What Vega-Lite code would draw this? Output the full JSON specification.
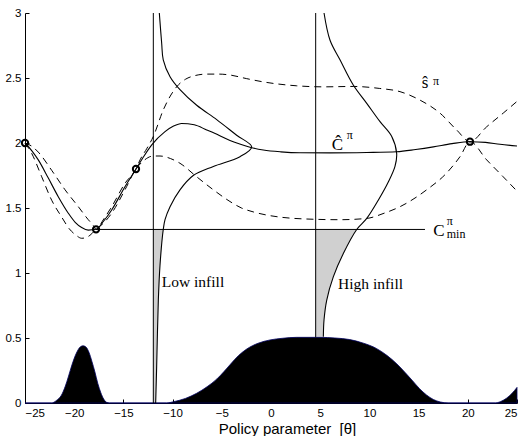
{
  "$schema": "https://vega.github.io/schema/vega-lite/v6.json",
  "width": 492,
  "height": 390,
  "autosize": "none",
  "padding": {"left": 25, "top": 13, "right": 10, "bottom": 33},
  "background": "white",
  "config": {"view": {"stroke": null}},
  "datasets": {
    "dens": [
      {"t": -25, "d": 0}, {"t": -22.3, "d": 0}, {"t": -21.8, "d": 0.02}, {"t": -21.3, "d": 0.06}, {"t": -20.9, "d": 0.13}, {"t": -20.6, "d": 0.2}, {"t": -20.2, "d": 0.3}, {"t": -19.8, "d": 0.38}, {"t": -19.4, "d": 0.43}, {"t": -19.1, "d": 0.44}, {"t": -18.8, "d": 0.43}, {"t": -18.5, "d": 0.39}, {"t": -18.2, "d": 0.32}, {"t": -17.9, "d": 0.24}, {"t": -17.6, "d": 0.15}, {"t": -17.3, "d": 0.08}, {"t": -17.0, "d": 0.03}, {"t": -16.7, "d": 0.005}, {"t": -16.4, "d": 0},
      {"t": -10.6, "d": 0}, {"t": -9.9, "d": 0.01}, {"t": -8.7, "d": 0.035}, {"t": -7.55, "d": 0.075}, {"t": -6.5, "d": 0.125}, {"t": -5.5, "d": 0.185}, {"t": -4.8, "d": 0.24}, {"t": -4.1, "d": 0.3}, {"t": -3.3, "d": 0.365}, {"t": -2.47, "d": 0.415}, {"t": -1.3, "d": 0.46}, {"t": -0.1, "d": 0.485}, {"t": 1.2, "d": 0.498}, {"t": 2.6, "d": 0.505}, {"t": 5.0, "d": 0.505}, {"t": 6.5, "d": 0.5}, {"t": 8.0, "d": 0.488}, {"t": 9.4, "d": 0.46}, {"t": 10.7, "d": 0.42}, {"t": 11.8, "d": 0.365}, {"t": 12.8, "d": 0.3}, {"t": 13.6, "d": 0.237}, {"t": 14.4, "d": 0.17}, {"t": 15.1, "d": 0.11}, {"t": 15.8, "d": 0.062}, {"t": 16.5, "d": 0.027}, {"t": 17.2, "d": 0.008}, {"t": 18.0, "d": 0},
      {"t": 22.8, "d": 0}, {"t": 23.3, "d": 0.01}, {"t": 23.9, "d": 0.035}, {"t": 24.5, "d": 0.075}, {"t": 25, "d": 0.12}
    ],
    "mean": [
      {"t": -25, "c": 2.0}, {"t": -24.3, "c": 1.94}, {"t": -23.65, "c": 1.87}, {"t": -22.63, "c": 1.73}, {"t": -21.62, "c": 1.587}, {"t": -20.6, "c": 1.46}, {"t": -19.9, "c": 1.39}, {"t": -19.24, "c": 1.35}, {"t": -18.57, "c": 1.33}, {"t": -17.78, "c": 1.336}, {"t": -17.0, "c": 1.4}, {"t": -16.19, "c": 1.485}, {"t": -14.84, "c": 1.664}, {"t": -13.72, "c": 1.8}, {"t": -12.9, "c": 1.9}, {"t": -12.12, "c": 1.985}, {"t": -10.77, "c": 2.087}, {"t": -9.9, "c": 2.13}, {"t": -9.08, "c": 2.15}, {"t": -7.8, "c": 2.14}, {"t": -6.53, "c": 2.1}, {"t": -5.3, "c": 2.06}, {"t": -4.17, "c": 2.02}, {"t": -3.1, "c": 1.99}, {"t": -2.13, "c": 1.967}, {"t": -0.78, "c": 1.946}, {"t": 1, "c": 1.932}, {"t": 2.95, "c": 1.925}, {"t": 6, "c": 1.924}, {"t": 9.73, "c": 1.927}, {"t": 12.77, "c": 1.933}, {"t": 14.7, "c": 1.95}, {"t": 16.5, "c": 1.97}, {"t": 18.4, "c": 1.995}, {"t": 20.22, "c": 2.01}, {"t": 21.8, "c": 2.005}, {"t": 23.27, "c": 1.99}, {"t": 25, "c": 1.977}
    ],
    "band": [
      {"s": "upper", "t": -25, "c": 2.0}, {"s": "upper", "t": -24.3, "c": 1.975}, {"s": "upper", "t": -23.65, "c": 1.93}, {"s": "upper", "t": -22.29, "c": 1.79}, {"s": "upper", "t": -20.93, "c": 1.64}, {"s": "upper", "t": -19.58, "c": 1.51}, {"s": "upper", "t": -18.57, "c": 1.41}, {"s": "upper", "t": -18.1, "c": 1.37}, {"s": "upper", "t": -17.78, "c": 1.336}, {"s": "upper", "t": -17.0, "c": 1.415}, {"s": "upper", "t": -16.19, "c": 1.51}, {"s": "upper", "t": -14.84, "c": 1.69}, {"s": "upper", "t": -13.72, "c": 1.8}, {"s": "upper", "t": -13.31, "c": 1.87}, {"s": "upper", "t": -12.6, "c": 1.96}, {"s": "upper", "t": -11.96, "c": 2.05}, {"s": "upper", "t": -10.95, "c": 2.254}, {"s": "upper", "t": -9.58, "c": 2.433}, {"s": "upper", "t": -8.7, "c": 2.49}, {"s": "upper", "t": -7.9, "c": 2.515}, {"s": "upper", "t": -6.53, "c": 2.53}, {"s": "upper", "t": -5.3, "c": 2.53}, {"s": "upper", "t": -4.17, "c": 2.523}, {"s": "upper", "t": -2.47, "c": 2.495}, {"s": "upper", "t": -0.78, "c": 2.47}, {"s": "upper", "t": 2.61, "c": 2.44}, {"s": "upper", "t": 5.32, "c": 2.432}, {"s": "upper", "t": 8.36, "c": 2.435}, {"s": "upper", "t": 11, "c": 2.42}, {"s": "upper", "t": 13.11, "c": 2.395}, {"s": "upper", "t": 15.14, "c": 2.33}, {"s": "upper", "t": 17.17, "c": 2.23}, {"s": "upper", "t": 18.87, "c": 2.1}, {"s": "upper", "t": 20.22, "c": 2.01}, {"s": "upper", "t": 21.92, "c": 2.125}, {"s": "upper", "t": 23.6, "c": 2.23}, {"s": "upper", "t": 25, "c": 2.32},
      {"s": "lower", "t": -25, "c": 2.0}, {"s": "lower", "t": -24.32, "c": 1.92}, {"s": "lower", "t": -23.3, "c": 1.74}, {"s": "lower", "t": -22.29, "c": 1.56}, {"s": "lower", "t": -21.27, "c": 1.43}, {"s": "lower", "t": -20.5, "c": 1.34}, {"s": "lower", "t": -19.8, "c": 1.29}, {"s": "lower", "t": -19.24, "c": 1.267}, {"s": "lower", "t": -18.8, "c": 1.272}, {"s": "lower", "t": -18.4, "c": 1.29}, {"s": "lower", "t": -17.78, "c": 1.336}, {"s": "lower", "t": -17.0, "c": 1.385}, {"s": "lower", "t": -16.19, "c": 1.46}, {"s": "lower", "t": -14.84, "c": 1.64}, {"s": "lower", "t": -13.72, "c": 1.8}, {"s": "lower", "t": -13.0, "c": 1.86}, {"s": "lower", "t": -11.96, "c": 1.9}, {"s": "lower", "t": -11.28, "c": 1.9}, {"s": "lower", "t": -10.2, "c": 1.88}, {"s": "lower", "t": -9.25, "c": 1.844}, {"s": "lower", "t": -7.55, "c": 1.74}, {"s": "lower", "t": -5.86, "c": 1.64}, {"s": "lower", "t": -4.17, "c": 1.55}, {"s": "lower", "t": -3.0, "c": 1.5}, {"s": "lower", "t": -1.8, "c": 1.47}, {"s": "lower", "t": 0.91, "c": 1.43}, {"s": "lower", "t": 4.5, "c": 1.413}, {"s": "lower", "t": 7, "c": 1.41}, {"s": "lower", "t": 9.73, "c": 1.42}, {"s": "lower", "t": 11.5, "c": 1.46}, {"s": "lower", "t": 13.11, "c": 1.51}, {"s": "lower", "t": 15.82, "c": 1.64}, {"s": "lower", "t": 17.86, "c": 1.77}, {"s": "lower", "t": 19.21, "c": 1.895}, {"s": "lower", "t": 20.22, "c": 2.01}, {"s": "lower", "t": 21.92, "c": 1.87}, {"s": "lower", "t": 23.6, "c": 1.74}, {"s": "lower", "t": 25, "c": 1.63}
    ],
    "pdf": [
      {"g": "low", "i": 1, "t": -11.35, "c": 3.0}, {"g": "low", "i": 2, "t": -11.11, "c": 2.767}, {"g": "low", "i": 3, "t": -10.95, "c": 2.64}, {"g": "low", "i": 4, "t": -10.26, "c": 2.51}, {"g": "low", "i": 5, "t": -9.25, "c": 2.41}, {"g": "low", "i": 6, "t": -7.55, "c": 2.29}, {"g": "low", "i": 7, "t": -5.52, "c": 2.18}, {"g": "low", "i": 8, "t": -3.49, "c": 2.06}, {"g": "low", "i": 9, "t": -1.96, "c": 1.97}, {"g": "low", "i": 10, "t": -3.15, "c": 1.895}, {"g": "low", "i": 11, "t": -5.86, "c": 1.82}, {"g": "low", "i": 12, "t": -7.9, "c": 1.75}, {"g": "low", "i": 13, "t": -9.25, "c": 1.64}, {"g": "low", "i": 14, "t": -10.26, "c": 1.51}, {"g": "low", "i": 15, "t": -10.77, "c": 1.41}, {"g": "low", "i": 16, "t": -10.95, "c": 1.335}, {"g": "low", "i": 17, "t": -11.28, "c": 1.06}, {"g": "low", "i": 18, "t": -11.45, "c": 0.79}, {"g": "low", "i": 19, "t": -11.62, "c": 0.28}, {"g": "low", "i": 20, "t": -11.72, "c": 0.0},
      {"g": "high", "i": 1, "t": 5.39, "c": 3.0}, {"g": "high", "i": 2, "t": 6.0, "c": 2.79}, {"g": "high", "i": 3, "t": 7.01, "c": 2.64}, {"g": "high", "i": 4, "t": 8.36, "c": 2.446}, {"g": "high", "i": 5, "t": 9.73, "c": 2.305}, {"g": "high", "i": 6, "t": 11.08, "c": 2.164}, {"g": "high", "i": 7, "t": 12.27, "c": 2.05}, {"g": "high", "i": 8, "t": 12.77, "c": 1.92}, {"g": "high", "i": 9, "t": 12.6, "c": 1.82}, {"g": "high", "i": 10, "t": 11.92, "c": 1.7}, {"g": "high", "i": 11, "t": 10.9, "c": 1.56}, {"g": "high", "i": 12, "t": 9.73, "c": 1.42}, {"g": "high", "i": 13, "t": 8.71, "c": 1.335}, {"g": "high", "i": 14, "t": 7.35, "c": 1.15}, {"g": "high", "i": 15, "t": 6.33, "c": 0.97}, {"g": "high", "i": 16, "t": 5.66, "c": 0.79}, {"g": "high", "i": 17, "t": 5.39, "c": 0.64}, {"g": "high", "i": 18, "t": 5.32, "c": 0.51}
    ],
    "hatch": [
      {"g": "low", "y": 1.335, "a": -11.96, "b": -10.95}, {"g": "low", "y": 1.06, "a": -11.96, "b": -11.28}, {"g": "low", "y": 0.79, "a": -11.96, "b": -11.45}, {"g": "low", "y": 0.28, "a": -11.96, "b": -11.62}, {"g": "low", "y": 0.0, "a": -11.96, "b": -11.72},
      {"g": "high", "y": 1.335, "a": 4.54, "b": 8.71}, {"g": "high", "y": 1.15, "a": 4.54, "b": 7.35}, {"g": "high", "y": 0.97, "a": 4.54, "b": 6.33}, {"g": "high", "y": 0.79, "a": 4.54, "b": 5.66}, {"g": "high", "y": 0.64, "a": 4.54, "b": 5.39}, {"g": "high", "y": 0.51, "a": 4.54, "b": 5.32}
    ],
    "vlines": [
      {"t": -11.96, "y1": 0, "y2": 3},
      {"t": 4.54, "y1": 0.505, "y2": 3}
    ],
    "cmin": [{"t1": -17.78, "t2": 15.65, "c": 1.335}],
    "obs": [
      {"t": -25, "c": 2.0}, {"t": -17.78, "c": 1.336}, {"t": -13.72, "c": 1.8}, {"t": 20.22, "c": 2.01}
    ],
    "labels": [
      {"role": "note", "t": -11.1, "c": 0.89, "text": "Low infill"},
      {"role": "note", "t": 6.81, "c": 0.875, "text": "High infill"},
      {"role": "sym", "t": 6.76, "c": 1.95, "text": "Ĉ"},
      {"role": "sym", "t": 15.65, "c": 2.42, "text": "ŝ"},
      {"role": "symL", "t": 16.5, "c": 1.282, "text": "C"},
      {"role": "script", "t": 7.69, "c": 2.03, "text": "π"},
      {"role": "script", "t": 16.46, "c": 2.45, "text": "π"},
      {"role": "script", "t": 17.86, "c": 1.37, "text": "π"},
      {"role": "script", "t": 17.86, "c": 1.272, "text": "min"}
    ]
  },
  "encoding": {
    "x": {"type": "quantitative", "scale": {"domain": [-25, 25], "nice": false, "zero": false},
      "axis": {"values": [-25, -20, -15, -10, -5, 0, 5, 10, 15, 20, 25], "title": "Policy parameter \u00a0[θ]", "grid": false,
        "domainColor": "#000", "tickColor": "#000", "tickSize": -4, "labelPadding": 8, "labelFont": "Liberation Sans", "labelFontSize": 11.5, "labelColor": "#000",
        "titleFont": "Liberation Sans", "titleFontSize": 15, "titleFontWeight": "normal", "titleColor": "#000", "titleX": 262, "titleY": 30, "titleBaseline": "alphabetic", "titleAnchor": null}},
    "y": {"type": "quantitative", "scale": {"domain": [0, 3], "nice": false, "zero": false},
      "axis": {"values": [0, 0.5, 1, 1.5, 2, 2.5, 3], "title": null, "grid": false, "labelExpr": "format(datum.value, '~g')",
        "domainColor": "#000", "tickColor": "#000", "tickSize": -4, "labelPadding": 8, "labelFont": "Liberation Sans", "labelFontSize": 11.5, "labelColor": "#000"}}
  },
  "layer": [
    {"data": {"name": "hatch"},
      "mark": {"type": "area", "orient": "horizontal", "fill": "#d0d0d0", "interpolate": "monotone"},
      "encoding": {"y": {"field": "y", "type": "quantitative"}, "x": {"field": "a", "type": "quantitative"}, "x2": {"field": "b"}, "detail": {"field": "g"}}},
    {"data": {"name": "dens"},
      "mark": {"type": "area", "fill": "#000", "stroke": "#000060", "strokeWidth": 0.8, "interpolate": "monotone"},
      "encoding": {"x": {"field": "t", "type": "quantitative"}, "y": {"field": "d", "type": "quantitative"}}},
    {"data": {"name": "vlines"},
      "mark": {"type": "rule", "color": "#000", "strokeWidth": 1},
      "encoding": {"x": {"field": "t", "type": "quantitative"}, "y": {"field": "y1", "type": "quantitative"}, "y2": {"field": "y2"}}},
    {"data": {"name": "cmin"},
      "mark": {"type": "rule", "color": "#000", "strokeWidth": 1},
      "encoding": {"y": {"field": "c", "type": "quantitative"}, "x": {"field": "t1", "type": "quantitative"}, "x2": {"field": "t2"}}},
    {"data": {"name": "band"},
      "mark": {"type": "line", "color": "#000", "strokeWidth": 1, "strokeDash": [7, 5], "interpolate": "monotone"},
      "encoding": {"x": {"field": "t", "type": "quantitative"}, "y": {"field": "c", "type": "quantitative"}, "detail": {"field": "s"}}},
    {"data": {"name": "mean"},
      "mark": {"type": "line", "color": "#000", "strokeWidth": 1.1, "interpolate": "monotone"},
      "encoding": {"x": {"field": "t", "type": "quantitative"}, "y": {"field": "c", "type": "quantitative"}}},
    {"data": {"name": "pdf"},
      "mark": {"type": "line", "color": "#000", "strokeWidth": 1.1, "interpolate": "catmull-rom"},
      "encoding": {"x": {"field": "t", "type": "quantitative"}, "y": {"field": "c", "type": "quantitative"}, "detail": {"field": "g"}, "order": {"field": "i", "type": "quantitative"}}},
    {"data": {"name": "obs"},
      "mark": {"type": "point", "shape": "circle", "filled": false, "color": "#000", "strokeWidth": 2, "size": 40, "opacity": 1},
      "encoding": {"x": {"field": "t", "type": "quantitative"}, "y": {"field": "c", "type": "quantitative"}}},
    {"data": {"name": "labels"},
      "transform": [{"filter": "datum.role == 'note'"}],
      "mark": {"type": "text", "font": "Liberation Serif", "fontSize": 15.5, "align": "left", "baseline": "alphabetic", "color": "#000"},
      "encoding": {"x": {"field": "t", "type": "quantitative"}, "y": {"field": "c", "type": "quantitative"}, "text": {"field": "text"}}},
    {"data": {"name": "labels"},
      "transform": [{"filter": "datum.role == 'sym'"}],
      "mark": {"type": "text", "font": "Liberation Serif", "fontSize": 17, "align": "center", "baseline": "alphabetic", "color": "#000"},
      "encoding": {"x": {"field": "t", "type": "quantitative"}, "y": {"field": "c", "type": "quantitative"}, "text": {"field": "text"}}},
    {"data": {"name": "labels"},
      "transform": [{"filter": "datum.role == 'symL'"}],
      "mark": {"type": "text", "font": "Liberation Serif", "fontSize": 17, "align": "left", "baseline": "alphabetic", "color": "#000"},
      "encoding": {"x": {"field": "t", "type": "quantitative"}, "y": {"field": "c", "type": "quantitative"}, "text": {"field": "text"}}},
    {"data": {"name": "labels"},
      "transform": [{"filter": "datum.role == 'script'"}],
      "mark": {"type": "text", "font": "Liberation Serif", "fontSize": 12, "align": "left", "baseline": "alphabetic", "color": "#000"},
      "encoding": {"x": {"field": "t", "type": "quantitative"}, "y": {"field": "c", "type": "quantitative"}, "text": {"field": "text"}}}
  ]
}
